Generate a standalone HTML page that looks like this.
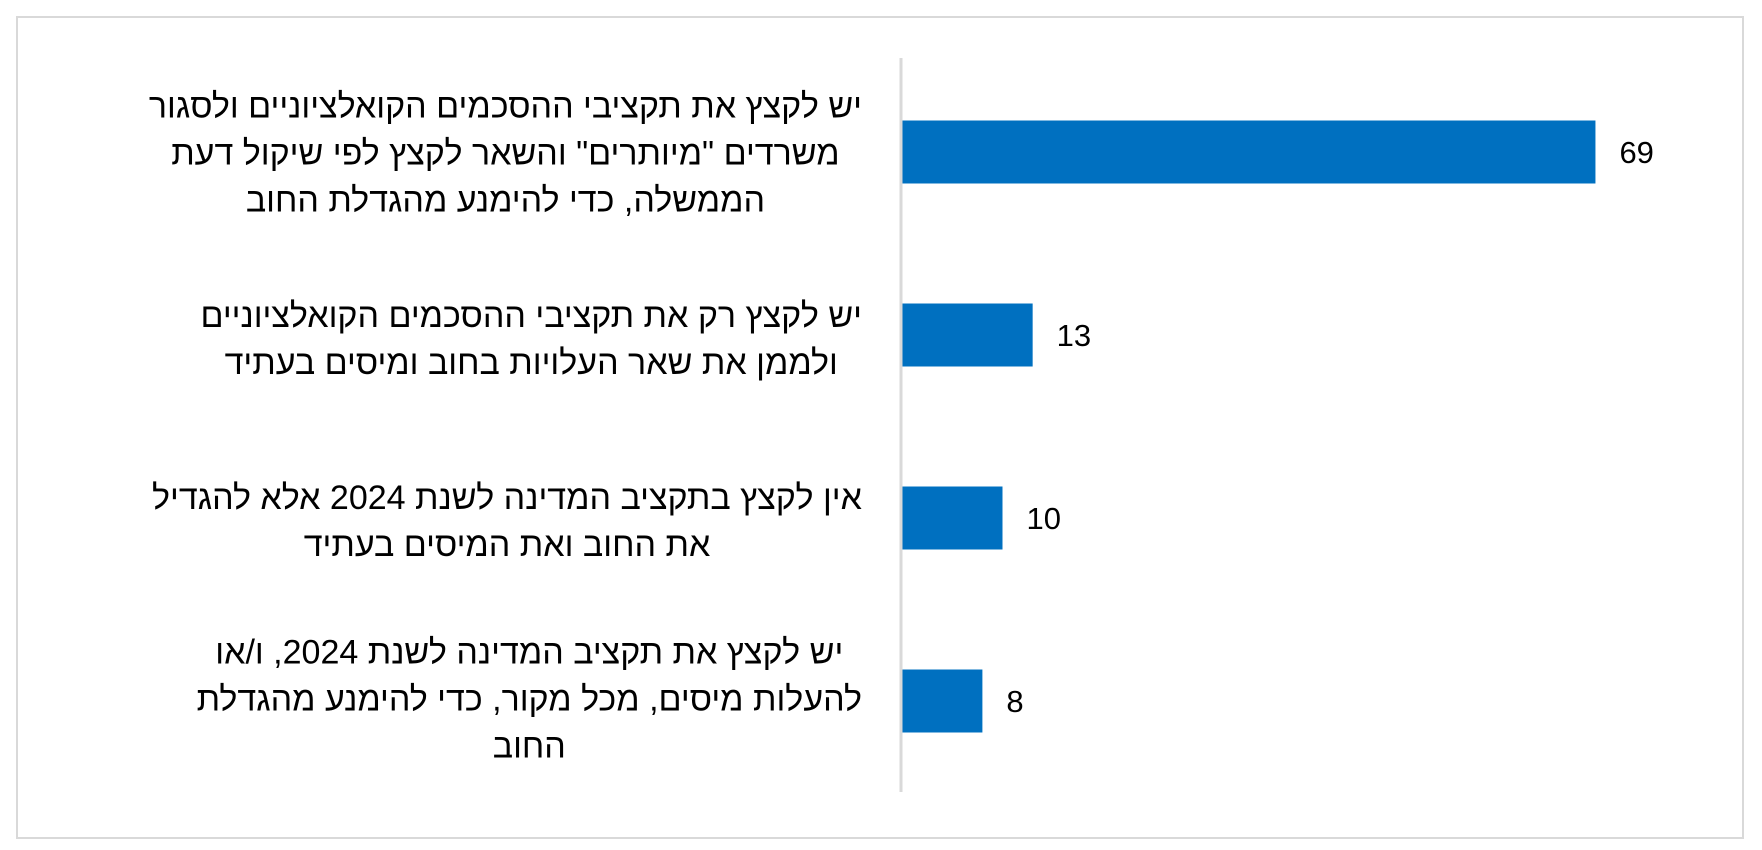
<!DOCTYPE html>
<html><head><meta charset="utf-8"><style>
body{margin:0;width:1762px;height:850px;background:#fff;overflow:hidden;position:relative;font-family:"Liberation Sans","DejaVu Sans",sans-serif;}
.lbl{position:absolute;right:900px;direction:rtl;text-align:center;font-size:34px;line-height:47px;color:#000;white-space:nowrap;transform:translateY(-50%);}
svg{position:absolute;left:0;top:0;}
</style></head><body>
<svg width="1762" height="850">
<rect x="17" y="17" width="1726" height="821" fill="none" stroke="#d9d9d9" stroke-width="2"/>
<g id="bars"></g>
<line x1="901" y1="58" x2="901" y2="792" stroke="#d9d9d9" stroke-width="3"/>
</svg>
<div class="lbl" style="top:154px">יש לקצץ את תקציבי ההסכמים הקואלציוניים ולסגור<br>משרדים "מיותרים" והשאר לקצץ לפי שיקול דעת<br>הממשלה, כדי להימנע מהגדלת החוב</div>
<div class="lbl" style="top:340px">יש לקצץ רק את תקציבי ההסכמים הקואלציוניים<br>ולממן את שאר העלויות בחוב ומיסים בעתיד</div>
<div class="lbl" style="top:522px">אין לקצץ בתקציב המדינה לשנת 2024 אלא להגדיל<br>את החוב ואת המיסים בעתיד</div>
<div class="lbl" style="top:700px">יש לקצץ את תקציב המדינה לשנת 2024, ו/או<br>להעלות מיסים, מכל מקור, כדי להימנע מהגדלת<br>החוב</div>
<script>
const categories = ["cut-coalition-and-ministries","cut-coalition-only","no-cut","cut-or-raise-taxes"];
const values = [69, 13, 10, 8];
const valueLabels = ["69","13","10","8"];
const x0 = 902, unit = 10.05;
const xScale = v => x0 + v * unit;
const bandTop = 60, bandStep = 183, barH = 63;
const yCenter = i => bandTop + bandStep * i + 92;
const g = document.getElementById('bars');
const NS = 'http://www.w3.org/2000/svg';
values.forEach((v, i) => {
  const r = document.createElementNS(NS, 'rect');
  r.setAttribute('x', x0);
  r.setAttribute('y', yCenter(i) - barH / 2);
  r.setAttribute('width', xScale(v) - x0);
  r.setAttribute('height', barH);
  r.setAttribute('fill', '#0070c0');
  
  
  g.appendChild(r);
  const t = document.createElementNS(NS, 'text');
  t.setAttribute('x', xScale(v) + 24);
  t.setAttribute('y', yCenter(i) + 11);
  t.setAttribute('font-size', '31');
  t.setAttribute('font-family', 'Liberation Sans, sans-serif');
  t.setAttribute('fill', '#000');
  t.textContent = valueLabels[i];
  
  
  g.appendChild(t);
});
</script>
</body></html>
